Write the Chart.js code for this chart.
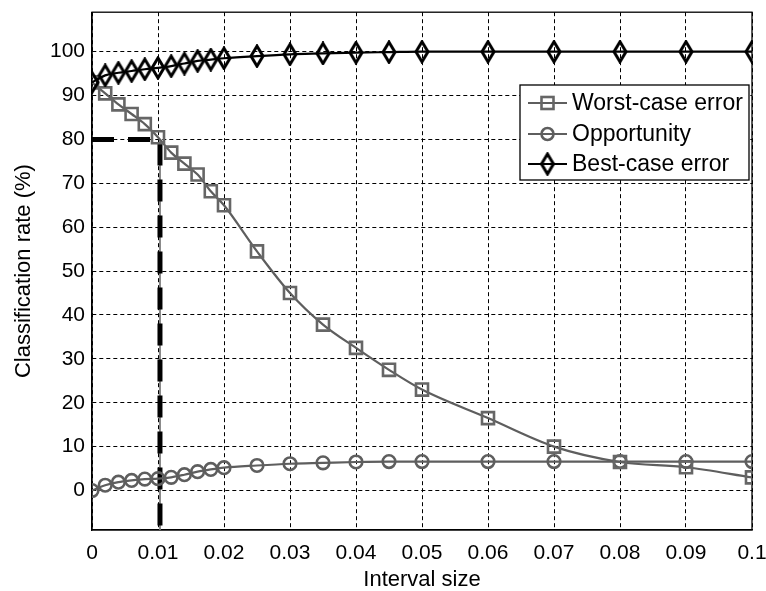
<!DOCTYPE html>
<html>
<head>
<meta charset="utf-8">
<script src="https://cdn.jsdelivr.net/npm/chart.js@4.4.1/dist/chart.umd.min.js"></script>
<style>
  html, body { margin: 0; padding: 0; background: #fff; }
  canvas { display: block; }
</style>
</head>
<body>
<canvas id="c" width="766" height="591"></canvas>
<script>
// ---- Data ----
const intervalSizes = [0, 0.002, 0.004, 0.006, 0.008, 0.01, 0.012, 0.014, 0.016, 0.018, 0.02,
  0.025, 0.03, 0.035, 0.04, 0.045, 0.05, 0.06, 0.07, 0.08, 0.09, 0.1];
const worstCaseError = [93, 90.5, 88, 85.8, 83.5, 80.5, 77, 74.5, 72, 68.2, 65,
  54.5, 45, 37.8, 32.5, 27.5, 23, 16.5, 10, 6.5, 5.3, 3];
const opportunity = [0, 1.2, 1.9, 2.3, 2.6, 2.7, 3, 3.6, 4.3, 4.8, 5.2,
  5.7, 6.1, 6.3, 6.5, 6.6, 6.6, 6.6, 6.6, 6.6, 6.6, 6.6];
const bestCaseError = [93, 94.6, 95.2, 95.6, 96, 96.3, 96.7, 97.3, 97.9, 98.2, 98.5,
  99, 99.4, 99.6, 99.8, 99.9, 100, 100, 100, 100, 100, 100];
const seriesNames = ['Worst-case error', 'Opportunity', 'Best-case error'];
const markerX = [0, 0.0103, 0.0103];
const markerY = [80, 80, -9];
const xTicks = [0, 0.01, 0.02, 0.03, 0.04, 0.05, 0.06, 0.07, 0.08, 0.09, 0.1];
const xTickLabels = ['0', '0.01', '0.02', '0.03', '0.04', '0.05', '0.06', '0.07', '0.08', '0.09', '0.1'];
const yTicks = [0, 10, 20, 30, 40, 50, 60, 70, 80, 90, 100];
const yTickLabels = ['0', '10', '20', '30', '40', '50', '60', '70', '80', '90', '100'];
const xTitle = 'Interval size';
const yTitle = 'Classification rate (%)';

// ---- Styles ----
const FONT = '"Liberation Sans", Arial, Helvetica, sans-serif';
const GRAY = '#5e5e5e';
const MGRAY = '#666666';

function makeDiamond(w, h, lw, color) {
  const cv = document.createElement('canvas');
  cv.width = w; cv.height = h;
  const g = cv.getContext('2d');
  g.strokeStyle = color; g.lineWidth = lw; g.lineJoin = 'miter';
  const p = lw / 2 + 0.5;
  g.beginPath();
  g.moveTo(w / 2, p); g.lineTo(w - p, h / 2); g.lineTo(w / 2, h - p); g.lineTo(p, h / 2);
  g.closePath(); g.stroke();
  return cv;
}
const diamond = makeDiamond(16, 24, 3, '#000');

const toPts = (xs, ys) => xs.map((x, i) => ({ x: x, y: ys[i] }));

const boxPlugin = {
  id: 'box',
  beforeDatasetsDraw(chart) {
    const { ctx, chartArea: a } = chart;
    ctx.save();
    ctx.strokeStyle = '#000'; ctx.lineWidth = 1.3;
    ctx.strokeRect(a.left, a.top, a.right - a.left, a.bottom - a.top);
    ctx.restore();
  },
  afterDraw(chart) {
    const ctx = chart.ctx;
    const bx = 520, by = 85, bw = 229, bh = 95;
    ctx.save();
    ctx.fillStyle = '#fff';
    ctx.fillRect(bx, by, bw, bh);
    ctx.strokeStyle = '#000'; ctx.lineWidth = 1.3;
    ctx.strokeRect(bx, by, bw, bh);
    const rows = [103, 134, 164];
    ctx.font = '23px ' + FONT;
    ctx.textBaseline = 'middle';
    ctx.textAlign = 'left';
    rows.forEach((ry, i) => {
      const ds = chart.data.datasets[i];
      ctx.strokeStyle = ds.borderColor; ctx.lineWidth = 2.2;
      ctx.beginPath(); ctx.moveTo(528, ry); ctx.lineTo(567, ry); ctx.stroke();
      const cx = 547.5;
      ctx.lineWidth = 2.6; ctx.strokeStyle = ds.pointBorderColor;
      if (i === 0) { ctx.strokeRect(cx - 6, ry - 6, 12, 12); }
      else if (i === 1) { ctx.beginPath(); ctx.arc(cx, ry, 6, 0, Math.PI * 2); ctx.stroke(); }
      else { ctx.drawImage(diamond, cx - diamond.width / 2, ry - diamond.height / 2); }
      ctx.fillStyle = '#000';
      ctx.fillText(seriesNames[i], 572, ry + 1);
    });
    ctx.restore();
  }
};

new Chart(document.getElementById('c'), {
  type: 'line',
  data: {
    datasets: [
      {
        label: seriesNames[0], data: toPts(intervalSizes, worstCaseError),
        borderColor: GRAY, borderWidth: 2.2, pointStyle: 'rect', pointRadius: 8.5,
        pointBorderColor: MGRAY, pointBorderWidth: 2.6, pointBackgroundColor: 'rgba(0,0,0,0)',
        cubicInterpolationMode: 'monotone', order: 2
      },
      {
        label: seriesNames[1], data: toPts(intervalSizes, opportunity),
        borderColor: GRAY, borderWidth: 2.2, pointStyle: 'circle', pointRadius: 6.3,
        pointBorderColor: GRAY, pointBorderWidth: 2.6, pointBackgroundColor: 'rgba(0,0,0,0)',
        cubicInterpolationMode: 'monotone', order: 3
      },
      {
        label: seriesNames[2], data: toPts(intervalSizes, bestCaseError),
        borderColor: '#000', borderWidth: 2.2, pointStyle: diamond, pointRadius: 10,
        pointBorderColor: '#000', pointBackgroundColor: 'rgba(0,0,0,0)',
        cubicInterpolationMode: 'monotone', order: 1
      },
      {
        label: 'thin', data: toPts(markerX.slice(1), markerY.slice(1)),
        borderColor: '#777', borderWidth: 1, pointRadius: 0, tension: 0, order: 5
      },
      {
        label: 'ref', data: toPts(markerX, markerY),
        borderColor: '#000', borderWidth: 5, borderDash: [22, 14], borderCapStyle: 'butt',
        pointRadius: 0, tension: 0, order: 4
      }
    ]
  },
  options: {
    responsive: false,
    animation: false,
    layout: { padding: { top: 12, right: 14, left: 0, bottom: 0 } },
    plugins: { legend: { display: false }, tooltip: { enabled: false } },
    scales: {
      x: {
        type: 'linear', min: 0, max: 0.1,
        afterBuildTicks: s => { s.ticks = xTicks.map(v => ({ value: v })); },
        afterFit: s => { s.height = 61; s.paddingLeft = 0; s.paddingRight = 0; },
        ticks: {
          autoSkip: false, maxRotation: 0, padding: 11, color: '#000',
          font: { family: FONT, size: 21 },
          callback: (v, i) => xTickLabels[i]
        },
        grid: { color: '#000', lineWidth: 1, drawTicks: false },
        border: { display: true, color: '#000', width: 1.3, dash: [4, 3] },
        title: { display: true, text: xTitle, color: '#000', font: { family: FONT, size: 22 }, padding: { top: 0, bottom: -2 } }
      },
      y: {
        type: 'linear', min: -9, max: 109,
        afterBuildTicks: s => { s.ticks = yTicks.map(v => ({ value: v })); },
        afterFit: s => { s.width = 92; s.paddingTop = 0; s.paddingBottom = 0; },
        ticks: {
          autoSkip: false, padding: 7, color: '#000',
          font: { family: FONT, size: 21 },
          callback: (v, i) => yTickLabels[i]
        },
        grid: { color: '#000', lineWidth: 1, drawTicks: false },
        border: { display: true, color: '#000', width: 1.3, dash: [4, 3] },
        title: { display: true, text: yTitle, color: '#000', font: { family: FONT, size: 22 }, padding: { top: 11, bottom: 0 } }
      }
    }
  },
  plugins: [boxPlugin]
});
</script>
</body>
</html>
